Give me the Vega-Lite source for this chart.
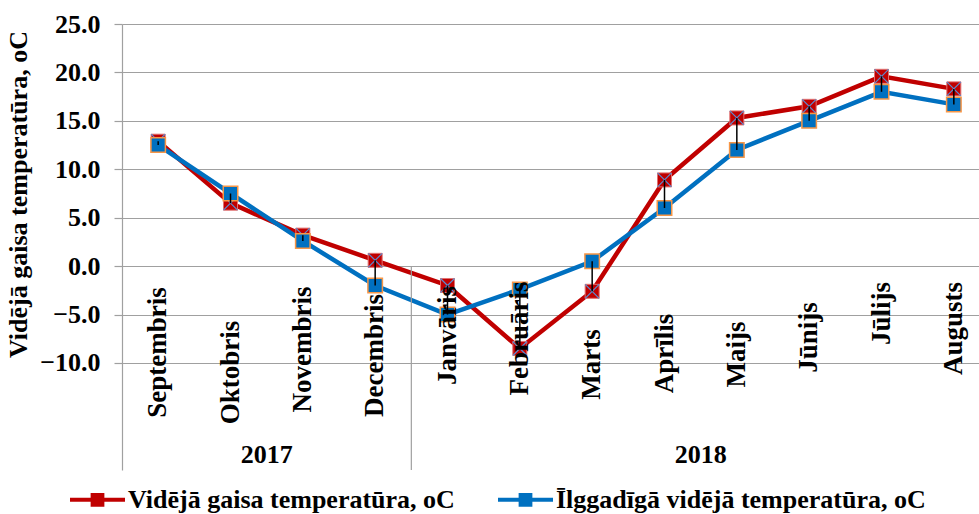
{
  "$schema": "https://vega.github.io/schema/vega-lite/v6.json",
  "width": 868,
  "height": 446,
  "autosize": {"type": "none"},
  "padding": {"left": 122, "top": 24, "right": 0, "bottom": 44},
  "background": "white",
  "config": {"view": {"stroke": null}, "font": "Liberation Serif"},
  "datasets": {
    "temps": [
      {"month": "Septembris", "series": "Vidējā gaisa temperatūra, oC", "temp": 12.9},
      {"month": "Oktobris", "series": "Vidējā gaisa temperatūra, oC", "temp": 6.5},
      {"month": "Novembris", "series": "Vidējā gaisa temperatūra, oC", "temp": 3.2},
      {"month": "Decembris", "series": "Vidējā gaisa temperatūra, oC", "temp": 0.6},
      {"month": "Janvāris", "series": "Vidējā gaisa temperatūra, oC", "temp": -2.0},
      {"month": "Februāris", "series": "Vidējā gaisa temperatūra, oC", "temp": -8.5},
      {"month": "Marts", "series": "Vidējā gaisa temperatūra, oC", "temp": -2.6},
      {"month": "Aprīlis", "series": "Vidējā gaisa temperatūra, oC", "temp": 8.9},
      {"month": "Maijs", "series": "Vidējā gaisa temperatūra, oC", "temp": 15.3},
      {"month": "Jūnijs", "series": "Vidējā gaisa temperatūra, oC", "temp": 16.5},
      {"month": "Jūlijs", "series": "Vidējā gaisa temperatūra, oC", "temp": 19.6},
      {"month": "Augusts", "series": "Vidējā gaisa temperatūra, oC", "temp": 18.3},
      {"month": "Septembris", "series": "Īlggadīgā vidējā temperatūra, oC", "temp": 12.5},
      {"month": "Oktobris", "series": "Īlggadīgā vidējā temperatūra, oC", "temp": 7.5},
      {"month": "Novembris", "series": "Īlggadīgā vidējā temperatūra, oC", "temp": 2.6},
      {"month": "Decembris", "series": "Īlggadīgā vidējā temperatūra, oC", "temp": -2.0},
      {"month": "Janvāris", "series": "Īlggadīgā vidējā temperatūra, oC", "temp": -5.0},
      {"month": "Februāris", "series": "Īlggadīgā vidējā temperatūra, oC", "temp": -2.4},
      {"month": "Marts", "series": "Īlggadīgā vidējā temperatūra, oC", "temp": 0.5},
      {"month": "Aprīlis", "series": "Īlggadīgā vidējā temperatūra, oC", "temp": 6.0},
      {"month": "Maijs", "series": "Īlggadīgā vidējā temperatūra, oC", "temp": 12.0},
      {"month": "Jūnijs", "series": "Īlggadīgā vidējā temperatūra, oC", "temp": 15.0},
      {"month": "Jūlijs", "series": "Īlggadīgā vidējā temperatūra, oC", "temp": 18.0},
      {"month": "Augusts", "series": "Īlggadīgā vidējā temperatūra, oC", "temp": 16.7}
    ],
    "yearBounds": [{"month": "Janvāris"}],
    "years": [
      {"year": "2017", "month": "Novembris"},
      {"year": "2018", "month": "Maijs"}
    ]
  },
  "layer": [
    {
      "data": {"name": "temps"},
      "mark": {"type": "line", "strokeWidth": 4.5},
      "encoding": {
        "x": {"field": "month", "type": "nominal",
              "scale": {"type": "band", "paddingInner": 0, "paddingOuter": 0,
                        "domain": ["Septembris","Oktobris","Novembris","Decembris","Janvāris","Februāris","Marts","Aprīlis","Maijs","Jūnijs","Jūlijs","Augusts"]},
              "axis": {"title": null, "orient": "bottom", "labelAngle": 270, "labelAlign": "center", "labelBaseline": "middle",
                       "ticks": false, "domain": false, "grid": false,
                       "labelPadding": {"condition": [
                         {"test": "datum.value === 'Septembris'", "value": -118},
                         {"test": "datum.value === 'Oktobris'", "value": -98},
                         {"test": "datum.value === 'Novembris'", "value": -121},
                         {"test": "datum.value === 'Decembris'", "value": -115},
                         {"test": "datum.value === 'Janvāris'", "value": -135},
                         {"test": "datum.value === 'Februāris'", "value": -132},
                         {"test": "datum.value === 'Marts'", "value": -106},
                         {"test": "datum.value === 'Aprīlis'", "value": -117},
                         {"test": "datum.value === 'Maijs'", "value": -116},
                         {"test": "datum.value === 'Jūnijs'", "value": -133},
                         {"test": "datum.value === 'Jūlijs'", "value": -157},
                         {"test": "datum.value === 'Augusts'", "value": -142}
                       ], "value": -123},
                       "labelFont": "Liberation Serif", "labelFontWeight": "bold", "labelFontSize": 27, "labelColor": "black",
                       "zindex": 2, "labelOverlap": false}},
        "y": {"field": "temp", "type": "quantitative",
              "scale": {"domain": [-21.05, 25], "nice": false, "zero": false},
              "axis": {"values": [-10, -5, 0, 5, 10, 15, 20, 25], "format": ".1f", "grid": true,
                       "gridColor": "#A0A0A0", "gridWidth": 1.2, "domainColor": "#A0A0A0", "domainWidth": 1.2,
                       "tickSize": 8, "tickColor": "#A0A0A0", "tickWidth": 1.2, "labelPadding": 14,
                       "labelFont": "Liberation Serif", "labelFontWeight": "bold", "labelFontSize": 26, "labelColor": "black",
                       "title": "Vidējā gaisa temperatūra, oC", "titleFont": "Liberation Serif", "titleFontWeight": "bold",
                       "titleFontSize": 26, "titleColor": "black", "titleY": 170, "titlePadding": 8}},
        "color": {"field": "series", "type": "nominal", "legend": null,
                  "scale": {"range": ["#C00000", "#0070C0"]}}
      }
    },
    {
      "data": {"name": "yearBounds"},
      "mark": {"type": "rule", "color": "#A0A0A0", "strokeWidth": 1.2},
      "encoding": {
        "x": {"field": "month", "type": "nominal", "bandPosition": 0},
        "y": {"datum": 0, "type": "quantitative"},
        "y2": {"datum": -21.05}
      }
    },
    {
      "data": {"name": "temps"},
      "transform": [{"filter": "datum.series == 'Vidējā gaisa temperatūra, oC'"}],
      "mark": {"type": "point", "shape": "square", "filled": true, "size": 196, "opacity": 1, "stroke": "#E07070", "strokeWidth": 1},
      "encoding": {
        "x": {"field": "month", "type": "nominal"},
        "y": {"field": "temp", "type": "quantitative"},
        "fill": {"field": "series", "type": "nominal",
                 "scale": {"domain": ["Vidējā gaisa temperatūra, oC", "Īlggadīgā vidējā temperatūra, oC"], "range": ["#C00000", "#0070C0"]},
                 "legend": {"orient": "none", "legendX": -52, "legendY": 448, "direction": "horizontal", "title": null,
                            "symbolType": "M-1,-0.07H1V0.07H-1Z M-0.25,-0.25H0.25V0.25H-0.25Z", "symbolSize": 3025,
                            "symbolStrokeWidth": 0,
                            "labelFont": "Liberation Serif", "labelFontWeight": "bold", "labelFontSize": 26, "labelColor": "black",
                            "labelOffset": 3, "columnPadding": 43, "labelLimit": 500}}
      }
    },
    {
      "data": {"name": "temps"},
      "transform": [{"filter": "datum.series == 'Vidējā gaisa temperatūra, oC'"}],
      "mark": {"type": "point", "shape": "M-1,-1L1,1M1,-1L-1,1", "filled": false, "size": 196, "opacity": 1, "stroke": "#5B8BD0", "strokeWidth": 1.2},
      "encoding": {
        "x": {"field": "month", "type": "nominal"},
        "y": {"field": "temp", "type": "quantitative"}
      }
    },
    {
      "data": {"name": "temps"},
      "transform": [{"filter": "datum.series == 'Īlggadīgā vidējā temperatūra, oC'"}],
      "mark": {"type": "point", "shape": "square", "filled": true, "size": 210, "opacity": 1, "stroke": "#F79646", "strokeWidth": 1.5},
      "encoding": {
        "x": {"field": "month", "type": "nominal"},
        "y": {"field": "temp", "type": "quantitative"},
        "fill": {"field": "series", "type": "nominal"}
      }
    },
    {
      "data": {"name": "temps"},
      "transform": [{"pivot": "series", "value": "temp", "groupby": ["month"]}],
      "mark": {"type": "rule", "color": "black", "strokeWidth": 1.5},
      "encoding": {
        "x": {"field": "month", "type": "nominal"},
        "y": {"field": "Vidējā gaisa temperatūra, oC", "type": "quantitative"},
        "y2": {"field": "Īlggadīgā vidējā temperatūra, oC"}
      }
    },
    {
      "data": {"name": "years"},
      "mark": {"type": "text", "font": "Liberation Serif", "fontWeight": "bold", "fontSize": 26, "color": "black", "baseline": "middle", "align": "center"},
      "encoding": {
        "x": {"field": "month", "type": "nominal", "bandPosition": 0},
        "y": {"datum": -19.5, "type": "quantitative"},
        "text": {"field": "year"}
      }
    }
  ]
}
